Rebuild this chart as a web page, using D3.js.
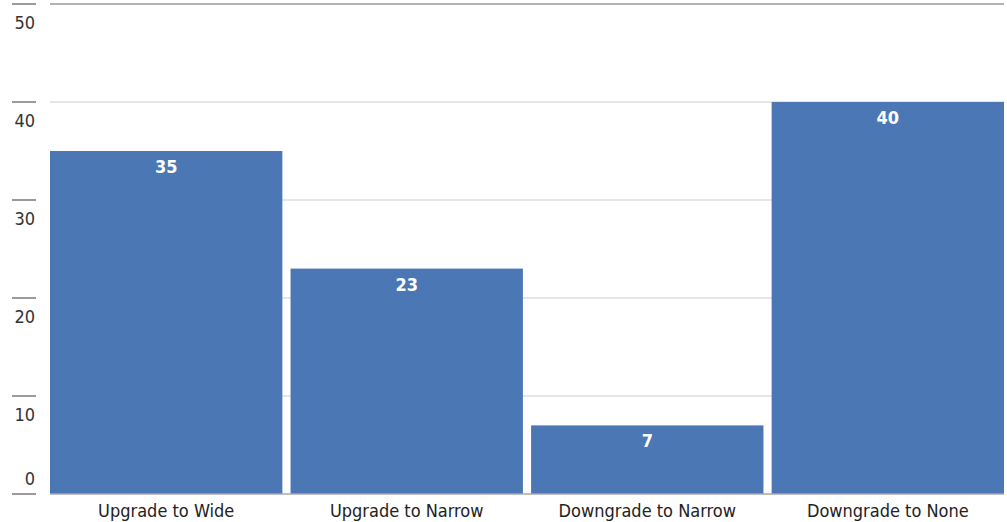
<!DOCTYPE html>
<html>
<head>
<meta charset="utf-8">
<script src="https://cdn.jsdelivr.net/npm/d3@7"></script>
<style>
  html, body { margin: 0; padding: 0; background: #fff; }
  svg { display: block; }
  text { font-family: "Liberation Sans Narrow", "DejaVu Sans Condensed", "Roboto", sans-serif; font-stretch: condensed; }
</style>
</head>
<body>
<svg id="chart" width="1007" height="522"></svg>
<script>
// Rating-change counts by category
const categories = ["Upgrade to Wide", "Upgrade to Narrow", "Downgrade to Narrow", "Downgrade to None"];
const counts = [35, 23, 7, 40];
const yTicks = [0, 10, 20, 30, 40, 50];

const svg = d3.select("#chart");
const plot = { left: 50, right: 1004, top: 4, bottom: 494 };

const x = d3.scaleBand()
  .domain(categories)
  .range([plot.left, plot.right])
  .paddingInner(0.034)
  .paddingOuter(0);

const y = d3.scaleLinear()
  .domain([0, 50])
  .range([plot.bottom, plot.top]);

// Horizontal gridlines (top line drawn darker)
svg.append("g")
  .selectAll("line")
  .data(yTicks.filter(d => d > 0))
  .join("line")
  .attr("x1", plot.left)
  .attr("x2", plot.right)
  .attr("y1", d => y(d))
  .attr("y2", d => y(d))
  .attr("stroke", d => d === 50 ? "#9a9a9a" : "#dedede")
  .attr("stroke-width", 1.3);

// Bars
svg.append("g")
  .selectAll("rect")
  .data(categories)
  .join("rect")
  .attr("x", d => x(d))
  .attr("width", x.bandwidth())
  .attr("y", (d, i) => y(counts[i]))
  .attr("height", (d, i) => y(0) - y(counts[i]))
  .attr("fill", "#4b77b5");

// Baseline
svg.append("line")
  .attr("x1", plot.left)
  .attr("x2", plot.right)
  .attr("y1", y(0))
  .attr("y2", y(0))
  .attr("stroke", "#a8a8a8")
  .attr("stroke-width", 1.5);

// Value labels inside bar tops
svg.append("g")
  .selectAll("text")
  .data(categories)
  .join("text")
  .attr("x", d => x(d) + x.bandwidth() / 2)
  .attr("y", (d, i) => y(counts[i]) + 22)
  .attr("text-anchor", "middle")
  .attr("fill", "#ffffff")
  .attr("font-weight", "bold")
  .attr("font-size", 18)
  .text((d, i) => counts[i]);

// Y axis: short tick marks with labels beneath (last label sits above)
const yAxis = svg.append("g");
yAxis.selectAll("line")
  .data(yTicks)
  .join("line")
  .attr("x1", 12)
  .attr("x2", 36)
  .attr("y1", d => y(d))
  .attr("y2", d => y(d))
  .attr("stroke", "#7a7a7a")
  .attr("stroke-width", 1.5);
yAxis.selectAll("text")
  .data(yTicks)
  .join("text")
  .attr("x", 35)
  .attr("y", d => d === 0 ? y(d) - 9 : y(d) + 25)
  .attr("text-anchor", "end")
  .attr("fill", "#333333")
  .attr("font-size", 18)
  .text(d => d);

// Category labels
svg.append("g")
  .selectAll("text")
  .data(categories)
  .join("text")
  .attr("x", d => x(d) + x.bandwidth() / 2)
  .attr("y", plot.bottom + 23)
  .attr("text-anchor", "middle")
  .attr("fill", "#222222")
  .attr("font-size", 18)
  .text(d => d);
</script>
</body>
</html>
